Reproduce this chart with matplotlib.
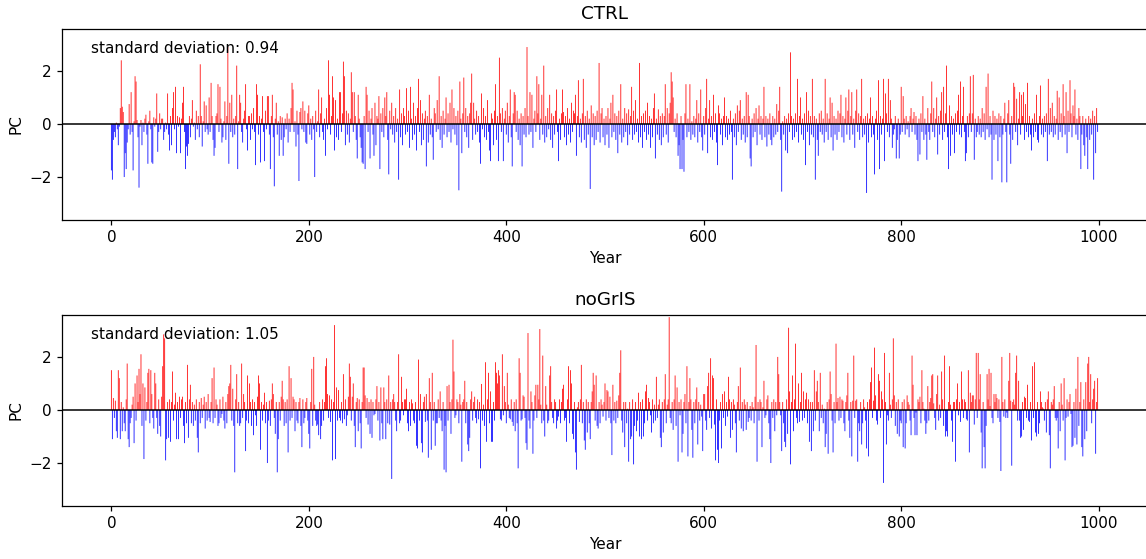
import numpy as np
import matplotlib
matplotlib.use("Agg")
import matplotlib.pyplot as plt

# PC time series, one value per model year (0-999)
ctrl_pc = [
    -1.75, -2.1, -0.6, -0.3, -0.5, 0.05, -0.2, -0.8, -0.1, 0.6,
    2.4, 0.65, 0.45, -2.0, -1.1, -1.7, -0.7, -0.2, 0.75, -0.4,
    1.2, -0.3, -1.75, 0.1, 1.8, 1.6, 0.15, -0.5, -2.4, -0.1,
    0.15, -0.8, 0.05, -0.3, 0.2, 0.35, -0.4, -1.5, 0.1, 0.5,
    -0.2, -1.45, -1.5, 0.25, -0.1, 0.2, 1.15, -1.05, -0.3, 0.4,
    -0.2, 0.2, 0.2, -0.6, -0.3, 0.05, -0.2, 1.15, -0.4, -1.0,
    0.3, -0.8, 0.6, 1.2, -0.2, 1.4, -1.1, 0.3, -0.1, 0.25,
    -1.1, 0.2, 0.8, 1.4, -0.3, -1.7, -0.85, -1.2, -0.75, 0.3,
    -0.5, 0.2, 0.9, -0.1, 0.05, -0.6, 0.5, -0.2, 0.3, -0.5,
    2.25, 0.3, -0.85, 0.1, 0.85, -0.3, 0.7, -0.2, -0.4, 1.0,
    -0.3, 1.55, 0.3, -0.6, -1.2, -0.9, 0.3, 0.4, 1.5, -0.3,
    1.4, 0.2, -0.7, -0.5, 0.1, 0.85, -0.6, 0.3, 2.9, -1.5,
    0.8, -0.3, 1.1, -0.5, 0.2, -0.4, 0.3, 2.2, -1.7, 0.1,
    1.1, 0.8, -0.3, -0.7, 0.2, 0.5, 1.5, -0.2, -1.0, 0.3,
    0.3, -0.6, 0.4, -0.2, 0.6, -0.3, -1.55, 1.5, 1.1, -0.4,
    0.3, -1.45, 0.2, 1.05, -0.3, -1.4, 0.5, -0.2, 1.05, 1.05,
    -0.4, -1.7, 0.3, 1.1, -0.5, -2.35, 0.2, 0.8, -0.4, 0.1,
    -1.2, 0.3, -0.6, 0.25, -1.2, -0.5, 0.2, -0.2, 0.4, -0.7,
    0.2, -0.3, 0.6, 1.55, 1.3, -0.3, 0.1, -0.85, 0.5, -0.4,
    -2.15, 0.45, 0.6, -0.2, 0.85, -0.3, 0.5, -0.7, -0.75, 0.4,
    0.7, -0.4, 0.2, -0.6, 0.3, -0.2, -2.0, 0.5, -0.3, 0.1,
    1.3, -0.5, 0.4, 1.0, -0.3, -0.6, 0.2, -1.2, 0.6, -0.2,
    2.4, 1.1, -0.4, 0.3, 1.8, 1.0, -1.0, 0.9, -0.5, 0.2,
    -0.6, 1.2, 1.2, -0.3, 0.4, 2.35, 1.8, -0.8, 0.5, -0.4,
    0.4, -0.7, 0.2, 1.95, 1.2, -0.3, 1.2, 0.3, -0.6, -1.3,
    1.1, 0.2, -0.5, -0.9, -1.45, -1.5, 0.3, -1.7, 1.4, 1.1,
    -0.3, 0.5, -1.3, 0.2, 0.6, -0.4, -1.2, 0.8, -0.8, 0.3,
    0.2, 1.05, -1.7, 0.4, -0.3, 0.6, -0.5, 1.0, 0.3, 1.2,
    -0.6, -1.9, 0.5, -0.2, 0.8, -0.4, 0.3, -0.7, 0.6, -0.3,
    0.2, -2.1, 1.3, -0.5, 0.4, -0.8, 0.6, 0.3, -0.4, 1.35,
    -0.3, 0.5, -0.9, 1.4, 0.2, -0.6, 0.8, -0.4, 0.3, -1.0,
    0.6, 1.7, -0.3, 0.9, -0.8, 0.4, -0.6, 0.2, 0.5, -1.6,
    0.3, -0.7, 1.1, -0.4, 0.2, -0.5, -1.35, 0.6, 0.4, -0.3,
    0.9, -0.2, 1.8, -0.6, 0.3, -0.9, 0.5, -0.4, 0.2, 1.0,
    -0.5, 0.4, -0.3, 0.8, -0.7, 1.3, -0.2, 0.6, -0.4, 0.3,
    -0.8, 0.5, -2.5, 1.6, 0.2, -1.1, 0.4, 1.75, -0.3, 0.6,
    -0.5, 0.3, -0.9, 0.4, 0.8, 1.9, -0.6, 0.8, 0.2, -0.4,
    0.5, -0.3, 0.3, -0.7, -1.5, 1.15, -0.2, 0.6, -0.5, 0.3,
    -0.6, 0.9, -0.3, -1.0, -1.4, 0.4, 0.2, -0.8, 0.5, 1.5,
    -0.6, 0.3, -1.4, 2.5, 0.4, -0.3, 0.6, -1.4, 0.2, 0.5,
    -0.4, 0.8, -0.7, 0.3, 1.3, -0.5, -1.6, 0.4, 1.2, 1.1,
    -0.3, 0.5, -0.6, 0.2, -0.8, 0.4, -1.6, 0.3, -0.4, 0.6,
    -0.5, 2.9, 0.3, -0.4, 1.2, -0.3, 1.1, -0.9, 0.2, 0.5,
    -0.3, 1.8, 0.4, 1.5, -0.6, 0.2, 1.1, -0.4, 2.2, -0.7,
    0.3, -0.5, 0.6, -0.2, 1.1, -0.6, 0.4, -0.9, 0.3, -0.4,
    0.5, 1.3, -0.3, -1.4, 0.2, -0.6, 0.4, 1.3, 0.45, -0.5,
    0.3, -0.8, 0.6, -0.4, 0.2, -0.7, 0.8, -0.3, 0.5, 0.4,
    1.1, -1.2, 0.3, 1.65, -0.5, 0.2, -0.7, 0.4, 1.7, -0.6,
    0.3, -0.9, 0.5, -0.4, 0.2, -2.45, 0.7, -0.5, 0.4, -0.8,
    0.3, -0.6, 0.5, -0.3, 2.3, -0.7, 0.4, 0.6, -0.5, 0.2,
    -0.8, 0.3, -0.4, 0.6, -0.9, 0.2, 0.8, -0.5, 1.1, -0.3,
    0.4, -0.6, 0.3, -1.1, 0.5, -0.4, 1.5, -0.7, 0.2, -0.5,
    0.6, -0.3, 0.4, -0.8, 0.55, -0.4, 0.3, 1.4, -0.6, 0.5,
    -0.4, 0.9, -0.3, 0.2, -0.7, 2.3, -0.5, 0.3, -0.9, 0.4,
    -0.3, 0.5, -0.6, 0.8, -0.4, 0.3, -0.9, 0.2, -0.5, 0.6,
    1.15, -1.3, 0.2, -0.4, 0.55, -0.6, 0.3, -0.8, 0.4, -0.5,
    0.3, 1.5, -0.4, 0.6, -0.7, 0.4, 0.8, 1.95, 1.6, 1.0,
    -0.3, 0.2, -0.5, 0.4, -1.2, -0.8, -1.7, 0.3, -1.7, -0.6,
    -1.8, 0.4, 1.5, -0.5, 0.2, -0.3, 1.5, -0.6, 0.1, -0.4,
    0.3, -0.5, 0.2, 0.9, -0.7, 0.4, -0.3, 1.3, -0.5, -1.0,
    0.3, -0.4, 0.6, 1.7, -1.1, 0.2, 0.9, -0.5, 0.3, -0.6,
    1.1, -0.3, 0.4, -0.7, -1.55, 0.7, 0.4, -0.4, 0.2, -0.8,
    0.3, 1.0, -0.5, 0.3, -0.6, 0.2, -0.4, 0.5, -0.3, -2.1,
    0.2, -0.5, 0.4, -0.8, 0.7, -0.3, 0.5, 0.9, -0.6, 0.2,
    -0.4, 0.3, -0.7, 1.2, -0.5, 1.1, 0.3, -1.3, -1.6, 0.2,
    -0.5, 0.4, -0.3, 0.6, -0.8, 0.2, 0.7, -0.4, 0.3, -0.6,
    0.2, 1.4, -0.5, 0.3, -0.85, 0.2, -0.4, 0.4, -0.6, -0.8,
    0.3, -0.5, 0.2, -0.4, 0.75, -0.3, 0.5, 1.4, -0.6, -2.55,
    0.1, -0.4, 0.3, -1.0, 0.2, -1.1, 0.4, -0.3, 2.7, 0.3,
    -0.6, 0.2, -0.5, 0.4, -0.3, 1.7, -0.7, 0.3, 1.0, -0.4,
    0.2, -0.6, 0.4, -1.55, 1.2, -0.3, 0.5, -0.8, 0.3, -0.4,
    1.7, -0.5, 0.3, -2.1, 0.2, -0.6, -1.2, 0.4, -0.3, 0.5,
    -0.4, 0.2, -0.7, 1.7, -0.3, 0.4, -0.6, 0.2, 1.0, -0.5,
    0.8, -1.0, 0.3, -0.4, 0.2, -0.6, 0.5, -0.3, 0.4, 1.1,
    -0.5, 0.3, -0.7, 0.2, 1.0, -0.4, 0.5, 1.3, -0.6, 0.3,
    1.2, -0.4, 0.2, -0.9, 0.5, 1.3, -0.3, 0.4, -0.6, 0.3,
    1.7, -0.5, 0.2, -0.4, 0.3, -2.6, 0.4, -0.7, 0.2, 1.0,
    -0.5, 0.3, -0.4, -1.9, 0.2, 0.5, -0.6, 1.65, -1.7, 0.3,
    -0.4, 0.2, 1.7, -1.4, 1.15, 0.4, -0.3, 1.7, -0.5, 0.9,
    0.2, -0.9, -0.4, -0.2, 0.3, -1.3, -0.6, 0.2, -1.3, -0.4,
    1.4, -0.3, 1.05, 0.2, -0.4, 0.3, -0.2, 0.1, -0.5, 0.3,
    0.6, -0.3, 0.2, 0.45, -0.4, 0.3, -0.6, -1.4, 0.2, -1.15,
    0.4, -0.3, 1.05, -0.6, 0.2, -0.4, -1.35, 0.6, -0.3, -0.6,
    0.4, 1.6, -0.3, 0.6, -0.5, 0.2, 1.0, -1.15, 0.3, -0.4,
    0.5, 1.2, -0.6, 1.4, -0.3, 0.4, 2.2, -0.5, -1.7, 0.7,
    -1.2, 0.3, -0.4, 0.2, -1.1, 0.4, -0.3, 0.5, 1.1, -0.4,
    1.6, -0.5, 0.3, 1.4, -0.3, -1.4, -1.1, 0.3, -0.5, 0.4,
    1.8, -0.3, 0.4, 1.85, -1.35, 0.2, -0.5, -0.3, 0.3, -0.4,
    0.2, -0.5, 0.6, -0.3, 0.4, -0.6, 1.4, -0.2, 1.9, -0.5,
    0.3, -0.4, -2.1, 0.5, -0.6, 0.3, -0.4, 0.2, -1.4, 0.4,
    -0.5, 0.3, -2.2, -0.4, 0.2, 0.8, -0.3, -2.2, 0.4, 0.9,
    -0.4, -1.5, 0.3, -0.6, 1.55, 1.4, -0.3, 0.95, -0.8, 0.2,
    1.2, -0.4, 1.1, 0.3, 1.2, -0.6, 0.75, -0.3, 1.55, -0.5,
    0.3, -0.4, -1.0, 0.2, -0.5, 0.4, -0.3, 1.1, -0.6, -0.7,
    0.3, 1.45, -0.4, 0.2, -0.5, 0.3, -0.3, 0.4, -1.4, 1.7,
    -0.4, 0.6, -0.3, 0.8, -0.5, 0.3, -0.4, 0.2, 1.25, -0.6,
    1.0, -0.3, 0.4, -0.5, 1.5, 0.3, -0.4, 1.2, -1.1, 0.5,
    -0.3, 1.65, 0.4, -0.5, 0.7, 0.3, 1.3, -0.4, 0.2, -0.6,
    0.6, 0.3, -1.7, -0.4, 0.3, -0.8, -1.2, 0.2, -0.5, -1.7,
    0.3, -0.6, 0.2, -0.4, 0.5, -2.1, 0.3, -1.1, 0.6, -0.3,
]

nogris_pc = [
    1.5, -1.1, 0.45, -0.3, 0.35, -0.8, -1.05, 1.5, 1.2, -1.1,
    0.3, -0.8, 0.1, -0.5, -0.8, 0.4, 1.75, -1.1, -1.4, -0.5,
    -0.3, 0.2, 0.5, -1.25, 1.0, -0.4, 1.3, 0.3, 1.55, 0.6,
    2.1, -0.6, 1.0, -1.85, 0.85, -0.4, 0.3, 1.4, 1.55, -0.5,
    1.5, 0.6, -0.3, -0.7, 1.4, 1.0, -0.3, -0.9, 0.4, -0.6,
    -1.0, 0.5, 1.65, 2.85, 2.7, -1.9, -1.1, 0.3, -1.05, 0.4,
    -1.2, 0.3, 1.45, -0.4, 0.2, 0.65, -1.1, 0.3, -1.1, 0.5,
    -0.3, 0.4, 0.5, -0.6, -1.25, 0.3, -0.5, 1.7, -1.05, 0.4,
    0.95, -0.5, 0.3, -0.6, 0.2, -0.4, 0.4, -1.05, -1.6, 0.3,
    -0.5, 0.45, -0.3, 0.2, 0.5, -0.7, 0.3, -0.4, 0.6, -0.3,
    -0.45, 0.3, 1.2, -0.5, 1.6, -0.3, 0.4, 0.2, -0.6, -0.5,
    0.4, -0.3, -0.15, 0.5, -0.4, -0.7, 0.3, -0.5, 0.6, 0.9,
    1.0, 1.7, -0.4, 0.8, -0.6, -2.35, 0.4, 1.35, -0.5, 0.3,
    -0.6, -0.5, 1.75, -0.3, 0.6, 0.3, -1.55, -0.4, 1.3, -0.5,
    1.0, 0.3, -0.6, 0.4, -0.95, 0.3, -0.2, -0.6, 0.5, 1.3,
    1.0, -1.5, 0.3, -0.4, 0.2, 0.65, -0.5, 0.3, -2.0, -0.4,
    0.35, -0.6, 0.4, 1.0, 0.6, -0.3, -0.9, 0.3, -2.35, -1.1,
    0.3, -0.4, 0.5, 1.1, 0.4, -0.6, 0.3, -0.5, 0.4, -1.6,
    1.65, -0.4, 1.2, -0.3, 0.5, 0.4, -0.8, 0.3, -0.4, -0.5,
    0.3, 0.45, -0.6, -1.4, 0.4, -0.5, -0.3, 0.3, 0.45, -0.4,
    -0.9, -1.45, 0.3, 1.55, -0.6, 2.0, 0.2, -0.4, -0.6, -0.55,
    -0.95, 0.3, -1.1, -0.6, 0.4, -0.4, 0.3, 1.65, 1.95, 0.6,
    -0.3, 0.55, -0.45, 0.4, -1.9, 0.3, 3.2, -1.85, 0.85, -0.4,
    0.75, -0.3, -0.4, 0.3, -0.5, 1.35, -0.35, 0.4, -0.6, -0.2,
    0.5, 1.75, 1.25, -0.4, 0.5, 1.0, -0.6, -1.4, 0.3, 0.45,
    -0.8, 0.4, -0.5, -1.45, 0.3, 1.6, 1.6, 0.55, -0.3, 0.45,
    -0.55, 0.3, -0.9, 0.4, -1.05, 0.3, -0.2, -0.15, 0.4, 0.9,
    -0.4, 0.3, -1.15, 0.85, -0.5, -1.1, 0.85, 0.3, -1.1, 0.4,
    -0.5, 1.3, -0.55, 0.3, -2.6, 0.4, 0.6, 0.3, -0.4, -0.8,
    0.3, 2.1, -0.5, -0.4, 1.25, 0.3, -0.2, 0.4, 0.4, 0.8,
    -0.5, -0.8, 0.3, -0.6, 0.4, 0.25, -0.4, -0.5, 0.3, -1.35,
    -1.45, 1.9, -0.4, 0.6, -1.25, -1.6, 0.3, 0.5, -0.45, 0.6,
    -0.4, -1.8, 1.2, 0.3, -1.5, 1.4, -0.4, 0.3, -1.35, -0.5,
    -0.5, 0.4, -0.3, 0.7, -0.4, -0.8, 0.3, -2.25, -0.6, -2.35,
    0.9, -0.4, 0.95, 0.3, -0.9, 0.4, 2.65, 1.45, -0.3, -0.2,
    0.4, 0.3, -0.5, 0.6, 0.2, -1.95, 0.3, 0.4, 1.1, -0.5,
    0.3, -1.3, -1.55, -1.05, 0.4, 0.7, -0.4, 0.3, 0.5, -0.3,
    -0.5, 0.4, -0.35, 0.3, -2.2, 0.98, -0.4, 0.2, -0.6, 1.8,
    -1.2, 0.4, 1.4, -0.5, 0.7, -1.2, -1.2, 0.3, -0.4, 1.8,
    1.4, 1.0, 1.5, 1.3, -0.35, -0.4, 2.1, -0.2, 0.9, 0.3,
    -0.5, 1.4, 0.2, -0.3, -0.35, 0.4, -0.45, -0.6, 0.3, -0.8,
    0.4, -0.5, -2.2, 1.95, 1.4, -0.4, -0.35, 0.55, 0.5, -0.3,
    -1.25, -1.5, 2.9, -0.4, -0.7, 0.7, 0.3, -1.65, -0.4, 0.55,
    0.95, -0.3, 0.95, 0.4, 3.05, 0.2, -0.5, 2.05, -0.4, -1.0,
    0.9, 0.2, -0.5, -0.4, 1.3, 1.65, 0.3, -0.3, -0.5, 0.4,
    0.3, -0.7, -0.4, -0.25, 0.4, -0.5, 0.3, 0.8, 0.95, -0.4,
    -0.3, -1.2, 0.4, 1.65, -0.5, 1.5, 1.0, -0.9, -1.1, 0.3,
    -1.6, -2.25, 0.1, 0.3, -0.45, 0.4, 1.7, -0.5, 0.3, -1.15,
    -1.5, 0.4, -0.85, 0.3, -0.5, -1.1, 0.3, 0.7, 1.4, 0.95,
    -0.4, 1.3, -0.6, -0.7, 0.3, -0.5, 0.4, 0.2, -0.25, 0.3,
    1.0, -0.4, 0.75, 0.7, -0.3, 0.5, -0.5, -1.7, 0.95, -0.4,
    0.3, -0.5, 0.35, -0.3, 0.55, 1.4, 2.25, -0.4, -0.85, 0.3,
    -1.4, 0.3, -0.5, 0.05, -1.95, 0.3, -1.1, -1.0, 0.4, -2.05,
    -0.6, 0.3, -0.8, -0.4, 0.65, -1.0, 0.3, -1.1, 0.4, -1.0,
    -0.5, 0.7, 0.95, -0.4, 0.45, 0.3, -0.2, -0.85, 0.4, -0.5,
    0.2, -0.4, 1.25, -0.3, 0.2, 0.4, -1.05, -1.4, 0.3, -0.85,
    0.4, 1.35, -0.5, 0.2, 0.4, 3.5, -0.3, -0.5, 0.3, -0.75,
    0.4, 1.3, -0.6, 0.85, -1.95, 0.3, -0.2, 0.4, -1.6, -0.9,
    0.3, 0.6, -0.5, 1.65, -1.75, 0.3, 1.2, 0.4, -0.75, -1.8,
    0.3, -0.5, 0.4, 0.85, -1.3, 0.3, -0.4, 0.2, -0.25, -1.55,
    0.6, 0.6, -0.4, -0.75, 0.9, 1.4, -0.3, 1.95, -0.7, 1.3,
    1.2, -0.55, -1.9, 0.4, -1.5, -2.0, -0.4, 0.3, -1.45, 0.6,
    -0.3, 0.7, -0.6, 0.3, -0.25, 1.25, 0.4, -1.05, 0.3, -0.75,
    0.4, 0.2, -0.5, -1.6, 0.3, 0.9, -0.4, 1.6, -0.7, 0.3,
    -0.8, 0.4, 0.2, -0.75, 0.3, -0.45, -0.3, 0.15, -0.4, 0.3,
    0.1, -0.5, 0.5, 2.45, -1.95, 0.3, -0.4, 0.4, 0.3, -1.4,
    0.1, 1.1, -0.3, -0.2, 0.4, 0.55, -0.5, -1.1, -2.0, 0.3,
    -0.3, 0.4, -0.8, 0.3, -0.2, 2.0, 1.35, 0.3, -0.2, -1.55,
    0.3, -0.5, -1.2, -1.4, 0.4, -0.9, 3.1, 0.7, -2.05, 0.3,
    1.3, -0.8, 0.4, 2.5, -0.3, -0.5, 1.0, -0.45, 0.3, 1.4,
    -0.4, 0.7, -0.3, 0.4, 0.65, -0.5, 0.4, -1.2, 0.3, -1.55,
    0.3, -0.8, 1.5, -0.4, 0.7, 1.1, 0.3, -0.8, 1.4, -0.3,
    0.2, -0.5, 0.05, -1.4, -0.9, 0.3, -1.65, 0.4, 1.45, 0.6,
    -0.4, -1.6, 0.3, -0.5, 2.5, 0.3, 0.45, -0.4, 0.5, -0.3,
    0.4, 0.35, -0.5, -0.8, 0.3, 0.55, 1.4, -0.4, -1.05, 0.3,
    -1.75, 0.35, 2.05, -0.3, 0.35, 0.4, -1.95, -0.5, -0.8, 0.3,
    -1.3, -0.5, 0.4, 0.1, -0.4, -1.45, 0.3, -1.75, 0.4, 1.05,
    1.6, -0.3, 0.35, 2.35, 0.55, -0.4, -0.55, 1.35, 1.1, -0.3,
    0.7, 0.4, -2.75, 2.15, 0.3, -1.3, -0.2, -0.4, 1.4, 0.2,
    -0.3, 0.4, 2.7, 0.55, -0.6, 0.3, -0.9, 0.4, -1.0, -0.4,
    -0.5, 0.3, -1.4, 0.4, -1.45, -0.5, 0.55, 0.3, 0.2, -0.4,
    -0.95, 2.05, 0.95, -0.3, -0.95, -0.1, -0.95, 0.4, 0.3, 0.5,
    -0.5, 1.5, 0.3, 0.05, -0.4, -0.9, -0.5, 0.9, -0.4, 0.3,
    0.45, 1.3, 1.35, 0.25, -0.3, -0.75, 0.6, 1.3, -0.4, 0.2,
    -0.3, 1.45, 0.4, -0.6, 2.05, -1.0, -0.8, -1.0, 0.3, 1.65,
    0.2, -0.4, -1.2, 0.3, 0.3, -1.95, 0.4, 1.0, -0.2, 0.3,
    -0.45, 1.45, 0.4, -0.3, 0.4, 0.3, -0.35, -0.4, 1.5, -1.6,
    0.65, 0.3, 0.55, 0.55, -0.55, 0.4, 2.15, -0.3, 2.15, 0.4,
    1.35, -0.85, -2.2, 0.3, -1.4, -2.2, -0.6, 1.35, 0.4, 1.55,
    0.15, 1.4, -0.3, -0.5, 0.6, 0.3, 0.6, 0.45, -0.3, 0.4,
    -0.45, -2.3, 2.0, 0.3, -0.25, 0.4, -0.3, -0.1, -0.3, 1.1,
    2.15, 0.35, -2.1, 0.3, 0.4, 0.2, 1.4, 2.05, -0.4, 1.1,
    -0.4, -1.05, -1.0, 0.3, -0.75, 0.5, 0.45, -0.3, 0.95, -0.4,
    -0.45, 0.3, -1.15, 1.65, -0.3, 1.8, -0.85, -1.0, 0.3, -0.9,
    -0.5, 0.7, 0.3, 0.1, 0.05, -0.4, 0.3, -0.85, 0.4, 0.7,
    -0.95, -2.2, 0.3, 0.2, 0.4, 0.9, -0.3, -0.4, -0.3, -1.45,
    0.3, -0.8, 1.0, 0.2, -0.4, 1.2, -1.9, -0.3, 0.4, -0.25,
    0.3, 0.6, -0.15, -1.4, -1.35, 0.3, -1.05, 0.8, -1.3, 2.0,
    -0.6, 0.3, 1.05, -1.4, -1.75, 0.4, -1.1, 1.05, -0.8, 1.75,
    2.0, 0.3, 1.35, -0.5, 0.4, 0.8, 1.1, -1.65, 0.3, 1.2,
]

titles = ["CTRL", "noGrIS"]
std_labels = ["standard deviation: 0.94", "standard deviation: 1.05"]

fig = plt.figure(figsize=(11.46, 5.59), dpi=100)
ax_top = fig.add_axes([62 / 1146, 339 / 559, 1086 / 1146, 191 / 559])
ax_bot = fig.add_axes([62 / 1146, 53 / 559, 1086 / 1146, 191 / 559])

for ax, pc, title, label in zip([ax_top, ax_bot], [ctrl_pc, nogris_pc], titles, std_labels):
    pc = np.array(pc)
    years = np.arange(len(pc))
    colors = np.where(pc >= 0, "red", "blue")
    # snap=False so the sub-pixel bars are antialiased instead of dropped
    ax.bar(years, pc, width=0.8, color=colors, linewidth=0, snap=False)
    ax.axhline(0, color="black", linewidth=1.1)
    ax.set_xlim(-50, 1050)
    ax.set_ylim(-3.62, 3.58)
    ax.set_yticks([-2, 0, 2])
    ax.set_title(title, fontsize=13.2, pad=7.5)
    ax.set_xlabel("Year", fontsize=11)
    ax.set_ylabel("PC", fontsize=11)
    ax.tick_params(labelsize=11, width=0.9, length=3.9)
    for sp in ax.spines.values():
        sp.set_linewidth(0.9)
    ax.text(0.027, 0.9, label, transform=ax.transAxes, fontsize=11,
            va="center", ha="left")

fig.savefig("out.png", dpi=100)
